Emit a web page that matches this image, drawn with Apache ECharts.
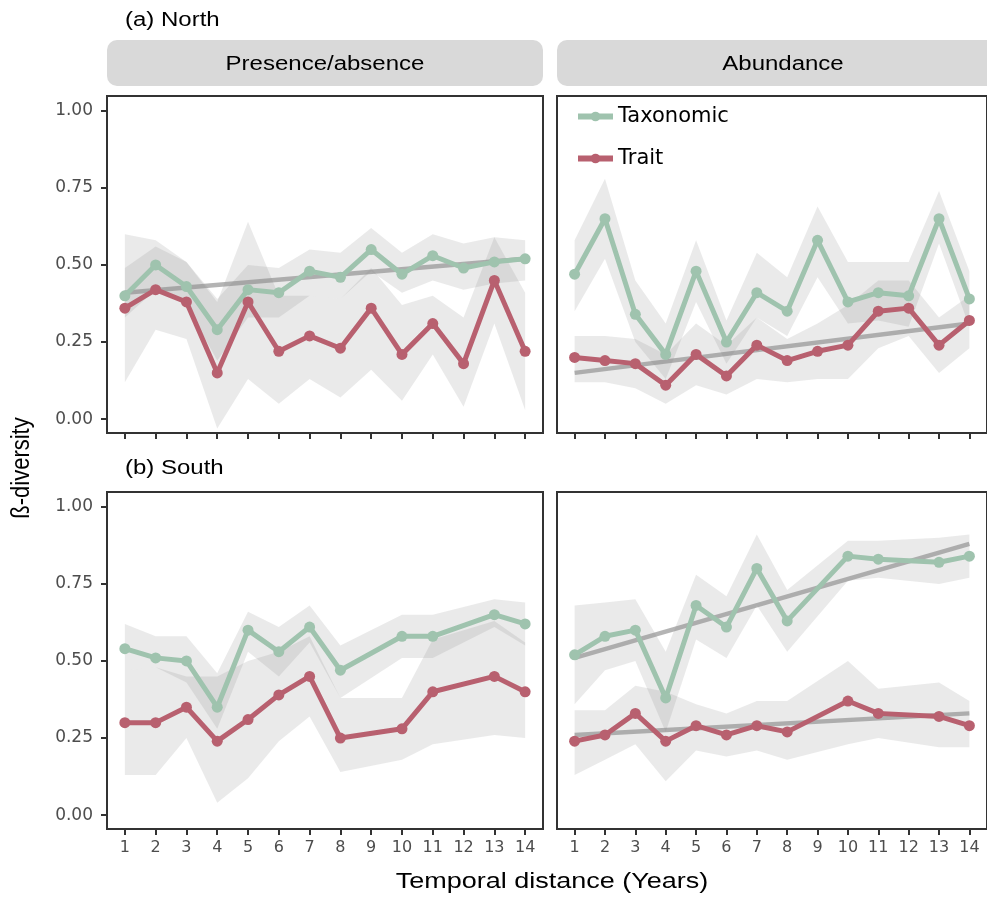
<!DOCTYPE html>
<html lang="en">
<head>
<meta charset="utf-8">
<title>Beta diversity over temporal distance</title>
<script src="https://cdn.jsdelivr.net/npm/echarts@6.0.0/dist/echarts.min.js"></script>
<style>
  html, body { margin: 0; padding: 0; background: #fff; }
  #main { width: 987px; height: 899px; }
</style>
</head>
<body>
<div id="main"></div>
<script>
// x values (years of temporal distance)
var years = [1, 2, 3, 4, 5, 6, 7, 8, 9, 10, 11, 12, 13, 14];
var yTicks = [0, 0.25, 0.5, 0.75, 1];

// (a) North - Presence/absence
var nPaTax      = [0.40, 0.50, 0.43, 0.29, 0.42, 0.41, 0.48, 0.46, 0.55, 0.47, 0.53, 0.49, 0.51, 0.52];
var nPaTaxHi    = [0.49, 0.56, 0.51, 0.39, 0.50, 0.49, 0.55, 0.54, 0.62, 0.54, 0.60, 0.57, 0.59, 0.58];
var nPaTaxLo    = [0.33, 0.42, 0.37, 0.19, 0.33, 0.33, 0.40, 0.39, 0.48, 0.41, 0.45, 0.42, 0.44, 0.45];
var nPaTrait    = [0.36, 0.42, 0.38, 0.15, 0.38, 0.22, 0.27, 0.23, 0.36, 0.21, 0.31, 0.18, 0.45, 0.22];
var nPaTraitHi  = [0.60, 0.58, 0.51, 0.38, 0.64, 0.40, 0.40, 0.39, 0.49, 0.37, 0.40, 0.33, 0.59, 0.41];
var nPaTraitLo  = [0.12, 0.29, 0.26, -0.03, 0.13, 0.05, 0.13, 0.07, 0.16, 0.06, 0.21, 0.04, 0.31, 0.03];
var nPaTaxTrend = [0.41, 0.52];

// (a) North - Abundance
var nAbTax        = [0.47, 0.65, 0.34, 0.21, 0.48, 0.25, 0.41, 0.35, 0.58, 0.38, 0.41, 0.40, 0.65, 0.39];
var nAbTaxHi      = [0.58, 0.78, 0.45, 0.31, 0.58, 0.32, 0.54, 0.46, 0.69, 0.51, 0.51, 0.51, 0.74, 0.48];
var nAbTaxLo      = [0.35, 0.52, 0.25, 0.13, 0.38, 0.18, 0.33, 0.27, 0.46, 0.31, 0.32, 0.30, 0.57, 0.30];
var nAbTrait      = [0.20, 0.19, 0.18, 0.11, 0.21, 0.14, 0.24, 0.19, 0.22, 0.24, 0.35, 0.36, 0.24, 0.32];
var nAbTraitHi    = [0.27, 0.27, 0.26, 0.21, 0.31, 0.24, 0.33, 0.26, 0.31, 0.37, 0.45, 0.45, 0.33, 0.40];
var nAbTraitLo    = [0.12, 0.12, 0.10, 0.05, 0.11, 0.08, 0.13, 0.12, 0.13, 0.13, 0.23, 0.27, 0.15, 0.23];
var nAbTraitTrend = [0.15, 0.31];

// (b) South - Presence/absence (no data at 9 and 12)
var sPaTax     = [0.54, 0.51, 0.50, 0.35, 0.60, 0.53, 0.61, 0.47, null, 0.58, 0.58, null, 0.65, 0.62];
var sPaTaxHi   = [0.62, 0.58, 0.58, 0.46, 0.66, 0.61, 0.68, 0.55, null, 0.65, 0.65, null, 0.70, 0.69];
var sPaTaxLo   = [0.47, 0.48, 0.43, 0.28, 0.53, 0.45, 0.56, 0.38, null, 0.51, 0.51, null, 0.61, 0.55];
var sPaTrait   = [0.30, 0.30, 0.35, 0.24, 0.31, 0.39, 0.45, 0.25, null, 0.28, 0.40, null, 0.45, 0.40];
var sPaTraitHi = [0.47, 0.48, 0.45, 0.45, 0.50, 0.53, 0.58, 0.38, null, 0.38, 0.57, null, 0.63, 0.56];
var sPaTraitLo = [0.13, 0.13, 0.25, 0.04, 0.12, 0.24, 0.32, 0.14, null, 0.18, 0.23, null, 0.26, 0.25];

// (b) South - Abundance (no data at 9 and 12)
var sAbTax        = [0.52, 0.58, 0.60, 0.38, 0.68, 0.61, 0.80, 0.63, null, 0.84, 0.83, null, 0.82, 0.84];
var sAbTaxHi      = [0.68, 0.69, 0.70, 0.53, 0.78, 0.71, 0.91, 0.73, null, 0.89, 0.89, null, 0.90, 0.91];
var sAbTaxLo      = [0.36, 0.47, 0.50, 0.27, 0.57, 0.51, 0.68, 0.53, null, 0.76, 0.77, null, 0.75, 0.77];
var sAbTrait      = [0.24, 0.26, 0.33, 0.24, 0.29, 0.26, 0.29, 0.27, null, 0.37, 0.33, null, 0.32, 0.29];
var sAbTraitHi    = [0.34, 0.34, 0.42, 0.40, 0.36, 0.33, 0.37, 0.37, null, 0.50, 0.41, null, 0.43, 0.37];
var sAbTraitLo    = [0.13, 0.18, 0.23, 0.11, 0.21, 0.19, 0.21, 0.18, null, 0.23, 0.25, null, 0.22, 0.22];
var sAbTaxTrend   = [0.51, 0.88];
var sAbTraitTrend = [0.26, 0.33];

var GREEN = '#9fc3ae';
var RED = '#b8606f';
var BAND = 'rgba(128,128,128,0.17)';
var TREND = 'rgba(140,140,140,0.65)';
var FONT = 'Liberation Sans, Arial, sans-serif';
var WIDE = 'DejaVu Sans, sans-serif';
var SX = 1.2; // the reference text is drawn somewhat wide

var panels = [
    { tax: nPaTax, taxHi: nPaTaxHi, taxLo: nPaTaxLo, trait: nPaTrait, traitHi: nPaTraitHi, traitLo: nPaTraitLo, trends: [nPaTaxTrend] },
    { tax: nAbTax, taxHi: nAbTaxHi, taxLo: nAbTaxLo, trait: nAbTrait, traitHi: nAbTraitHi, traitLo: nAbTraitLo, trends: [nAbTraitTrend] },
    { tax: sPaTax, taxHi: sPaTaxHi, taxLo: sPaTaxLo, trait: sPaTrait, traitHi: sPaTraitHi, traitLo: sPaTraitLo, trends: [] },
    { tax: sAbTax, taxHi: sAbTaxHi, taxLo: sAbTaxLo, trait: sAbTrait, traitHi: sAbTraitHi, traitLo: sAbTraitLo, trends: [sAbTaxTrend, sAbTraitTrend] }
];

function pairs(vals) {
    var out = [];
    for (var i = 0; i < years.length; i++) {
        if (vals[i] != null) out.push([years[i], vals[i]]);
    }
    return out;
}

// confidence ribbon: one polygon (upper edge forward, lower edge back)
function bandSeries(k, hi, lo) {
    var hiPts = pairs(hi), loPts = pairs(lo).reverse();
    return {
        type: 'custom', xAxisIndex: k, yAxisIndex: k, silent: true, z: 1, clip: true,
        data: hiPts,
        renderItem: function (params, api) {
            if (params.dataIndex !== 0) return null;
            var pts = hiPts.concat(loPts).map(function (d) { return api.coord(d); });
            return { type: 'polygon', shape: { points: pts }, style: { fill: BAND } };
        }
    };
}

var grids = [
    { left: 107, top: 96, width: 436, height: 337 },
    { left: 557, top: 96, width: 436, height: 337 },
    { left: 107, top: 492, width: 436, height: 337 },
    { left: 557, top: 492, width: 436, height: 337 }
];
grids.forEach(function (g) {
    g.show = true;
    g.borderColor = '#333';
    g.borderWidth = 2;
    g.backgroundColor = 'transparent';
    g.containLabel = false;
});

var xAxes = [], yAxes = [], series = [];
panels.forEach(function (p, k) {
    var bottom = k >= 2, left = (k % 2 === 0);
    xAxes.push({
        type: 'value', gridIndex: k, min: 0.42, max: 14.58,
        splitLine: { show: false },
        axisLine: { show: false, onZero: false },
        axisTick: { show: true, customValues: years, length: 6, lineStyle: { color: '#333', width: 2 } },
        axisLabel: { show: bottom, customValues: years, margin: 11, fontSize: 16, color: '#4d4d4d', fontFamily: WIDE }
    });
    yAxes.push({
        type: 'value', gridIndex: k, min: -0.045, max: 1.048,
        splitLine: { show: false },
        axisLine: { show: false, onZero: false },
        axisTick: { show: left, customValues: yTicks, length: 6, lineStyle: { color: '#333', width: 2 } },
        axisLabel: {
            show: left, customValues: yTicks, margin: 14, fontSize: 17, color: '#4d4d4d', fontFamily: WIDE,
            formatter: function (v) { return v.toFixed(2); }
        }
    });

    series.push(bandSeries(k, p.taxHi, p.taxLo));
    series.push(bandSeries(k, p.traitHi, p.traitLo));

    // fitted trend lines
    p.trends.forEach(function (t, j) {
        series.push({
            type: 'line', name: 'trend' + k + j, xAxisIndex: k, yAxisIndex: k,
            data: [[years[0], t[0]], [years[years.length - 1], t[1]]],
            symbol: 'none', lineStyle: { color: TREND, width: 4.5 }, silent: true, z: 2
        });
    });

    series.push({
        type: 'line', name: 'Taxonomic', xAxisIndex: k, yAxisIndex: k,
        data: pairs(p.tax), symbol: 'circle', symbolSize: 11,
        itemStyle: { color: GREEN }, lineStyle: { color: GREEN, width: 5 }, z: 3
    });
    series.push({
        type: 'line', name: 'Trait', xAxisIndex: k, yAxisIndex: k,
        data: pairs(p.trait), symbol: 'circle', symbolSize: 11,
        itemStyle: { color: RED }, lineStyle: { color: RED, width: 5 }, z: 4
    });
});

function label(x, y, text, size, align) {
    return {
        type: 'text', x: x, y: y, scaleX: SX,
        style: { text: text, fill: '#000', font: size + 'px ' + FONT, align: align, verticalAlign: 'middle' }
    };
}

var option = {
    animation: false,
    backgroundColor: '#fff',
    grid: grids,
    xAxis: xAxes,
    yAxis: yAxes,
    series: series,
    legend: {
        data: ['Taxonomic', 'Trait'],
        orient: 'vertical', left: 575, top: 106, padding: 0,
        itemWidth: 35, itemHeight: 12, itemGap: 21,
        lineStyle: { width: 6 },
        textStyle: { fontSize: 21, color: '#000', fontFamily: WIDE }
    },
    graphic: [
        { type: 'rect', left: 107, top: 40, shape: { x: 0, y: 0, width: 436, height: 46, r: 10 }, style: { fill: '#d9d9d9' } },
        { type: 'rect', left: 557, top: 40, shape: { x: 0, y: 0, width: 450, height: 46, r: 10 }, style: { fill: '#d9d9d9' } },
        label(325, 64, 'Presence/absence', 20, 'center'),
        label(783, 64, 'Abundance', 20, 'center'),
        label(125, 20, '(a) North', 20, 'left'),
        label(125, 468, '(b) South', 20, 'left'),
        label(552, 882, 'Temporal distance (Years)', 22.5, 'center'),
        { type: 'text', x: 22, y: 468, rotation: Math.PI / 2, scaleY: SX,
          style: { text: 'ß-diversity', fill: '#000', font: '22px ' + FONT, align: 'center', verticalAlign: 'middle' } }
    ]
};

var myChart = echarts.init(document.getElementById('main'));
myChart.setOption(option);
window.onresize = function () {
    myChart.resize();
};
</script>
</body>
</html>
